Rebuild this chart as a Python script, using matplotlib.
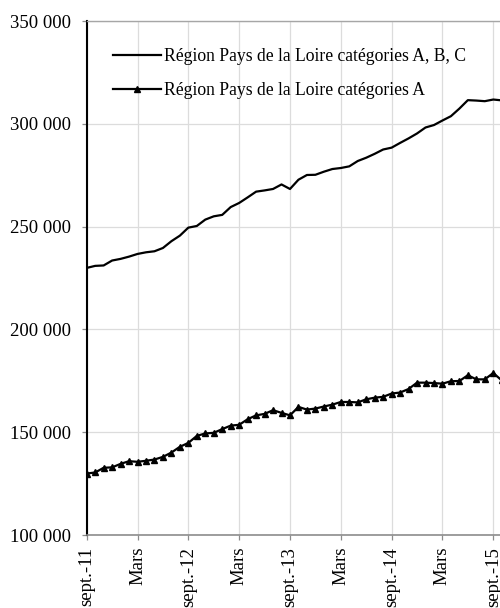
import matplotlib
matplotlib.use("Agg")
import matplotlib.pyplot as plt
from matplotlib.ticker import FuncFormatter, FixedLocator

plt.rcParams['font.family'] = ['Liberation Serif', 'DejaVu Serif']

label_abc = "Région Pays de la Loire catégories A, B, C"
label_a = "Région Pays de la Loire catégories A"

abc = [229900, 230900, 231100, 233500, 234300, 235400, 236700, 237500, 238000, 239600,
       242900, 245600, 249500, 250300, 253400, 255000, 255700, 259500, 261500, 264200,
       267000, 267600, 268300, 270500, 268300, 272800, 275100, 275200, 276700, 278000,
       278500, 279300, 281900, 283500, 285400, 287500, 288400, 290700, 292900, 295300,
       298200, 299400, 301600, 303700, 307400, 311500, 311300, 311000, 311800, 311400]

cat_a = [129900, 130400, 132700, 132900, 134600, 135900, 135600, 136100, 136700, 138000,
         140100, 142900, 144800, 148200, 149400, 149700, 151500, 153200, 153600, 156300,
         158200, 158900, 160700, 159400, 158200, 162300, 161000, 161500, 162500, 163400,
         164700, 164700, 164500, 166000, 166800, 167200, 168800, 169300, 171000, 174100,
         174100, 173900, 173600, 174800, 174900, 177700, 175700, 175700, 178800, 175200]

tick_pos = [0, 6, 12, 18, 24, 30, 36, 42, 48]
tick_labels = ["sept.-11", "Mars", "sept.-12", "Mars", "sept.-13", "Mars",
               "sept.-14", "Mars", "sept.-15"]
y_ticks = [100000, 150000, 200000, 250000, 300000, 350000]

W, H = 500, 608
fig = plt.figure(figsize=(W / 100, H / 100), dpi=100)
left, right, top, bottom = 86.7, 510.2, 21, 535
ax = fig.add_axes([left / W, 1 - bottom / H, (right - left) / W, (bottom - top) / H])

x = list(range(len(abc)))
ax.plot(x, abc, color='black', lw=1.6, label=label_abc, zorder=3)
ax.plot(list(range(len(cat_a))), cat_a, color='black', lw=1.6, marker='^', ms=4.5,
        label=label_a, zorder=3)

ax.set_xlim(0, 50)
ax.set_ylim(100000, 350000)
ax.xaxis.set_major_locator(FixedLocator(tick_pos))
ax.set_xticklabels(tick_labels, rotation=90, fontsize=13.5)
ax.yaxis.set_major_locator(FixedLocator(y_ticks))
ax.yaxis.set_major_formatter(FuncFormatter(lambda v, p: f"{v:,.0f}".replace(",", " ")))
for lab in ax.get_yticklabels():
    lab.set_fontsize(13.5)

ax.grid(True, color='#dcdcdc', lw=0.9, zorder=0)
ax.set_axisbelow(True)
ax.tick_params(axis='both', length=3.6, width=0.9, color='#8c8c8c', labelcolor='black')
ax.tick_params(axis='y', pad=8)
ax.tick_params(axis='x', pad=5)

ax.spines['left'].set_color('black')
ax.spines['left'].set_linewidth(1.5)
ax.spines['bottom'].set_color('#8c8c8c')
ax.spines['bottom'].set_linewidth(1.2)
ax.spines['top'].set_color('#a6a6a6')
ax.spines['top'].set_linewidth(1.0)
ax.spines['right'].set_visible(False)

ax.legend(loc='upper left', bbox_to_anchor=(113 / W, 1 - 48 / H),
          bbox_transform=fig.transFigure, frameon=False, fontsize=12.7,
          borderpad=0, borderaxespad=0, handlelength=2.7, handletextpad=0.2,
          labelspacing=0.95, markerscale=0.9)

fig.savefig("out.png", dpi=100)
